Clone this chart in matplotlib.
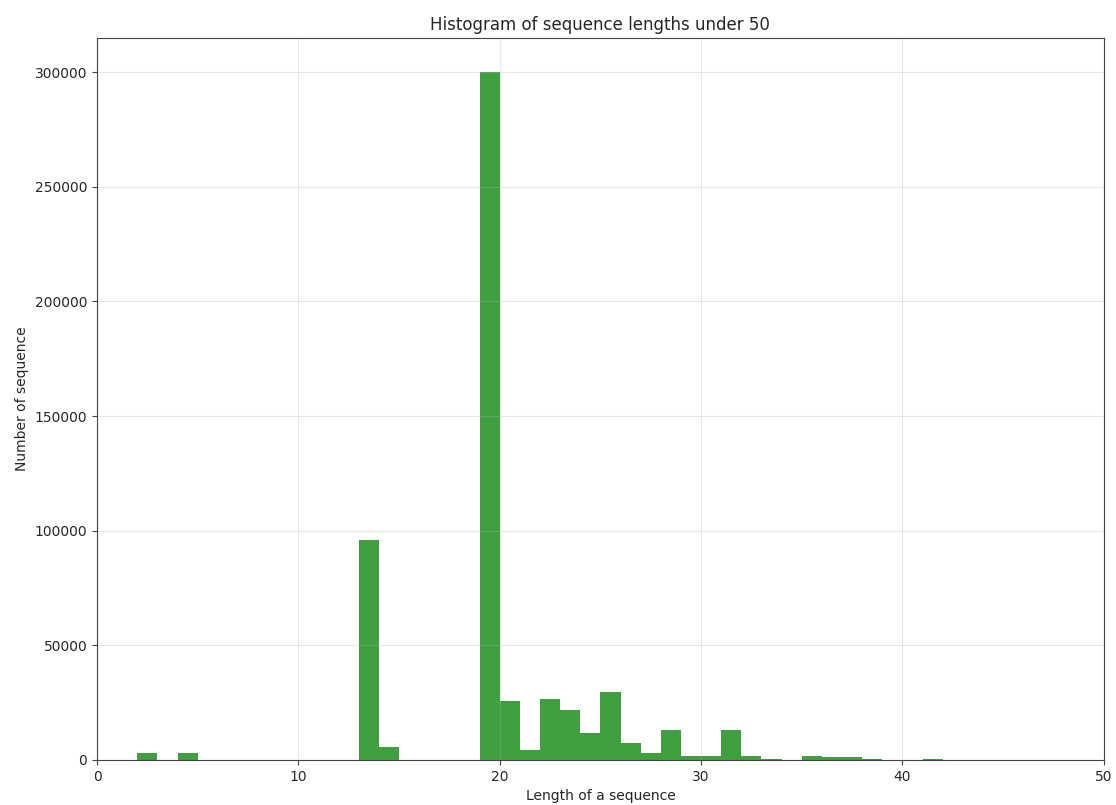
import numpy as np
import matplotlib
matplotlib.use("Agg")
import matplotlib.pyplot as plt

# bin left edges (length) and counts
lengths = [2, 4, 13, 14, 19, 20, 21, 22, 23, 24, 25, 26, 27, 28, 29, 30,
           31, 32, 33, 35, 36, 37, 38, 41]
counts = [3200, 3200, 96000, 5500, 300000, 25500, 4400, 26600, 21800, 11900,
          29800, 7500, 3200, 13100, 1700, 1700, 13100, 1700, 600, 1700,
          1200, 1200, 600, 600]
bin_edges = np.arange(0, 51, 1)

plt.rcParams["text.color"] = "#262626"
plt.rcParams["axes.labelcolor"] = "#262626"
plt.rcParams["xtick.labelcolor"] = "#262626"
plt.rcParams["ytick.labelcolor"] = "#262626"

fig, ax = plt.subplots(figsize=(11.16, 8.05), dpi=100)
fig.subplots_adjust(left=0.087, right=0.989, top=0.953, bottom=0.056)

ax.hist(lengths, bins=bin_edges, weights=counts, color="green", alpha=0.75)
ax.set_xlim(0, 50)
ax.set_title("Histogram of sequence lengths under 50")
ax.set_xlabel("Length of a sequence")
ax.set_ylabel("Number of sequence")
ax.grid(True, alpha=0.3)
for sp in ax.spines.values():
    sp.set_color("#444444")
ax.tick_params(color="#444444")

fig.savefig("out.png", dpi=100)
